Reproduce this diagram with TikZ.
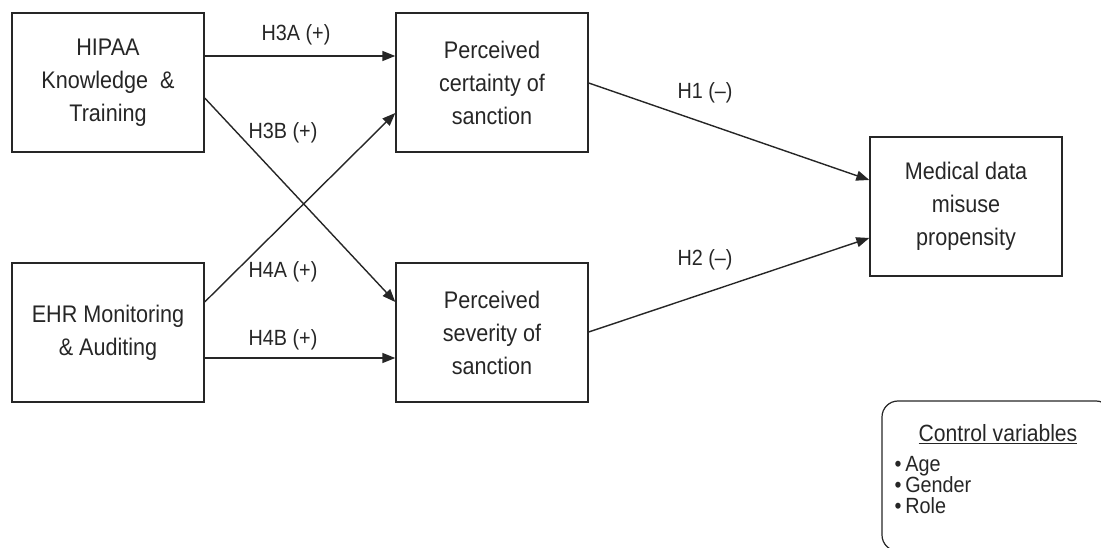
\documentclass[tikz,border=0pt]{standalone}
\usepackage{fontspec}
\setmainfont{Liberation Sans}[FakeStretch=0.9]
\usepackage[dvipsnames]{xcolor}
\usetikzlibrary{arrows.meta}
\definecolor{inkgray}{HTML}{262626}

\begin{document}
\begin{tikzpicture}[x=1pt,y=-1pt,>={Triangle[length=13pt,width=10pt]},line width=1.4pt,
    main node/.style={rectangle,draw=inkgray,line width=1.4pt,minimum width=192pt,minimum height=139pt,align=center,text=inkgray,font=\fontsize{24}{33}\selectfont},
    hyp label/.style={text=inkgray,font=\fontsize{22}{21}\selectfont,inner sep=0pt},
    ctrl box/.style={draw=inkgray,line width=1.2pt,rounded corners=16pt,minimum width=230pt,minimum height=150pt}]
            \clip (0,0) rectangle (1101,548);
            \useasboundingbox (0,0) rectangle (1101,548);

            \node[main node] (hipaa) at (108,82.5) {HIPAA\\Knowledge \ \&\\Training};
            \node[main node] (ehr) at (108,332.5) {EHR Monitoring\\\& Auditing};
            \node[main node] (cert) at (492,82.5) {Perceived\\certainty of\\sanction};
            \node[main node] (sev) at (492,332.5) {Perceived\\severity of\\sanction};
            \node[main node] (misuse) at (966,206.5) {Medical data\\misuse\\propensity};

            \path[->,inkgray]
                (hipaa.east |- 0,56) edge (cert.west |- 0,56)
                (hipaa.east |- 0,98) edge (sev.west |- 0,302)
                (ehr.east |- 0,302) edge (cert.west |- 0,113)
                (ehr.east |- 0,358) edge (sev.west |- 0,358)
                (cert.east |- 0,83) edge (misuse.west |- 0,180)
                (sev.east |- 0,332) edge (misuse.west |- 0,238)
                ;

            \node[hyp label] (h3a) at (296,35) {H3A (+)};
            \node[hyp label] (h3b) at (283,133) {H3B (+)};
            \node[hyp label] (h4a) at (283,272) {H4A (+)};
            \node[hyp label] (h4b) at (283,340) {H4B (+)};
            \node[hyp label] (h1) at (705,93) {H1 (--)};
            \node[hyp label] (h2) at (705,260) {H2 (--)};

            % control variables box, cut by the picture edge
            \node[ctrl box] (ctrl) at (997,476) {};
            \node[hyp label,font=\fontsize{23.5}{21}\selectfont] (ctrlhead) at (998,434) {\underline{Control variables}};
            \node[hyp label,font=\fontsize{22}{21}\selectfont,align=left,anchor=north west] (ctrllist) at (894,456) {\textbullet\,Age\\\textbullet\,Gender\\\textbullet\,Role};
        \end{tikzpicture}
\end{document}
